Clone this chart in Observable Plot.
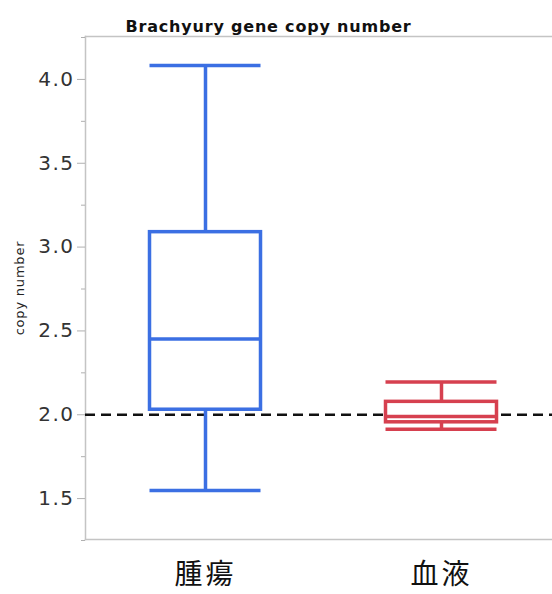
<!DOCTYPE html>
<html>
<head>
<meta charset="utf-8">
<script src="https://cdn.jsdelivr.net/npm/d3@7"></script>
<script src="https://cdn.jsdelivr.net/npm/@observablehq/plot@0.6"></script>
<style>
  html, body { margin: 0; padding: 0; background: #fff; }
  #chart svg { display: block; }
</style>
</head>
<body>
<div id="chart"></div>
<script>
// Data
const categories = ["腫瘍", "血液"];
const whiskerLow = [1.548, 1.913];
const q1 = [2.030, 1.955];
const median = [2.452, 1.990];
const q3 = [3.089, 2.077];
const whiskerHigh = [4.083, 2.196];
const colors = ["#3b6fe3", "#d6404f"];
const majorTicks = [1.5, 2.0, 2.5, 3.0, 3.5, 4.0];
const minorTicks = [1.25, 1.75, 2.25, 2.75, 3.25, 3.75, 4.25];
const referenceLine = [2.0];
const titleText = "Brachyury gene copy number";
const yLabel = "copy number";

const rows = categories.map((c, i) => ({
  cat: c, lo: whiskerLow[i], q1: q1[i], med: median[i], q3: q3[i], hi: whiskerHigh[i], color: colors[i]
}));

const inset = 62.5;
const sw = 3.5;

const chart = Plot.plot({
  width: 552,
  height: 594,
  marginTop: 36,
  marginBottom: 55,
  marginLeft: 85,
  marginRight: 0,
  style: { fontFamily: "DejaVu Sans, Verdana, sans-serif", background: "#fff" },
  x: { type: "band", domain: categories, range: [87, 559], padding: 0, label: null },
  y: { domain: [1.256, 4.256], label: null },
  marks: [
    Plot.frame({ anchor: "top", stroke: "#c4c4c4", strokeWidth: 1.5 }),
    Plot.frame({ anchor: "bottom", stroke: "#c4c4c4", strokeWidth: 1.5 }),
    Plot.frame({ anchor: "left", stroke: "#c4c4c4", strokeWidth: 1.5 }),
    Plot.axisY({ ticks: minorTicks, tickSize: 4, tickFormat: () => "", stroke: "#b0b0b0", label: null }),
    Plot.axisY({ ticks: majorTicks, tickSize: 8, tickPadding: 3, tickFormat: d3.format(".1f"),
      stroke: "#b0b0b0", fill: "#333", fontSize: 20, label: null }),
    Plot.axisX({ tickSize: 0, tickPadding: 25, fontSize: 28, fill: "#111", label: null,
      fontFamily: "Noto Sans CJK JP" }),
    Plot.ruleY(referenceLine, { stroke: "#111", strokeWidth: 2.5, strokeDasharray: "10,6" }),
    // whiskers
    Plot.ruleX(rows, { x: "cat", y1: "q3", y2: "hi", stroke: "color", strokeWidth: sw }),
    Plot.ruleX(rows, { x: "cat", y1: "lo", y2: "q1", stroke: "color", strokeWidth: sw }),
    Plot.tickY(rows, { x: "cat", y: "hi", stroke: "color", strokeWidth: sw, insetLeft: inset, insetRight: inset }),
    Plot.tickY(rows, { x: "cat", y: "lo", stroke: "color", strokeWidth: sw, insetLeft: inset, insetRight: inset }),
    // boxes
    Plot.rect(rows, { x: "cat", y1: "q1", y2: "q3", fill: "white", stroke: "color", strokeWidth: sw,
      insetLeft: inset, insetRight: inset }),
    Plot.tickY(rows, { x: "cat", y: "med", stroke: "color", strokeWidth: sw, insetLeft: inset, insetRight: inset }),
    // title and y label
    Plot.text([titleText], { frameAnchor: "top-left", dx: 183, dy: -16, fontWeight: "bold",
      fontSize: 16, fill: "#111", textAnchor: "middle", text: d => d }),
    Plot.text([yLabel], { frameAnchor: "left", dx: -66, dy: 0, rotate: -90, fontSize: 13,
      textAnchor: "middle", fill: "#222", text: d => d })
  ]
});
chart.querySelectorAll("text").forEach(t => {
  const s = t.textContent;
  if (s === titleText) t.style.letterSpacing = "0.8px";
  else if (s === yLabel) t.style.letterSpacing = "0.8px";
  else if (/^\d\.\d$/.test(s)) t.style.letterSpacing = "1.5px";
  else if (categories.includes(s)) t.style.letterSpacing = "3px";
});
document.getElementById("chart").append(chart);
</script>
</body>
</html>
